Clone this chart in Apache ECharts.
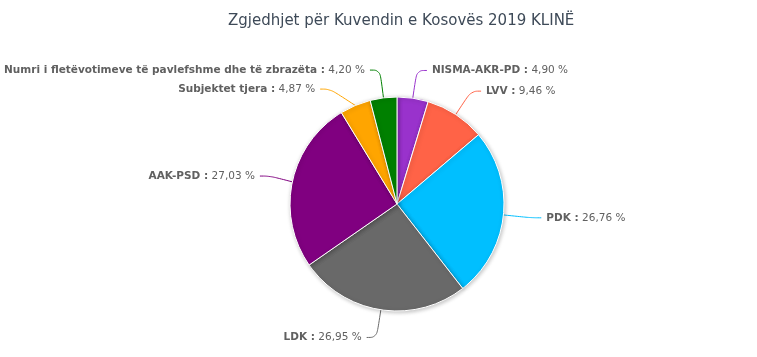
<!DOCTYPE html>
<html><head><meta charset="utf-8">
<script src="https://cdn.jsdelivr.net/npm/echarts@6/dist/echarts.min.js"></script>
<style>html,body{margin:0;padding:0;background:#fff}#c{width:757px;height:357px}</style>
</head><body><div id="c"></div>
<script>
const titleText = 'Zgjedhjet për Kuvendin e Kosovës 2019 KLINË';
const categories = ['NISMA-AKR-PD','LVV','PDK','LDK','AAK-PSD','Subjektet tjera','Numri i fletëvotimeve të pavlefshme dhe të zbrazëta'];
const values = [4.90, 9.46, 26.76, 26.95, 27.03, 4.87, 4.20];
const colors = ['#9932CC','#FF6347','#00BFFF','#696969','#800080','#FFA500','#008000'];

const chart = echarts.init(document.getElementById('c'));
chart.setOption({
  animation:false,
  title:{text:titleText,left:223,top:9,textStyle:{fontFamily:'DejaVu Sans',fontSize:15,fontWeight:'normal',color:'#3e4a58'}},
  series:[{
    type:'pie',
    center:[397,204],
    radius:107,
    startAngle:90,
    clockwise:true,
    data:categories.map((c,i)=>({name:c,value:values[i],itemStyle:{color:colors[i]}})),
    itemStyle:{borderColor:'#fff',borderWidth:1,shadowBlur:4,shadowOffsetX:1,shadowOffsetY:1,shadowColor:'rgba(0,0,0,0.25)'},
    label:{
      show:true,position:'outside',overflow:'none',
      fontFamily:'DejaVu Sans',fontSize:10.5,color:'#606060',lineHeight:17,
      formatter:p=>'{b|'+p.name+' :} '+p.value.toFixed(2).replace('.',',')+' %',
      rich:{b:{fontWeight:'bold',fontFamily:'DejaVu Sans',fontSize:10.5,color:'#606060',lineHeight:17}}
    },
    labelLine:{show:true,length:28,length2:10,smooth:0.4,lineStyle:{width:1}},
    labelLayout:{hideOverlap:false},
    emphasis:{disabled:true}
  }]
});
</script></body></html>
